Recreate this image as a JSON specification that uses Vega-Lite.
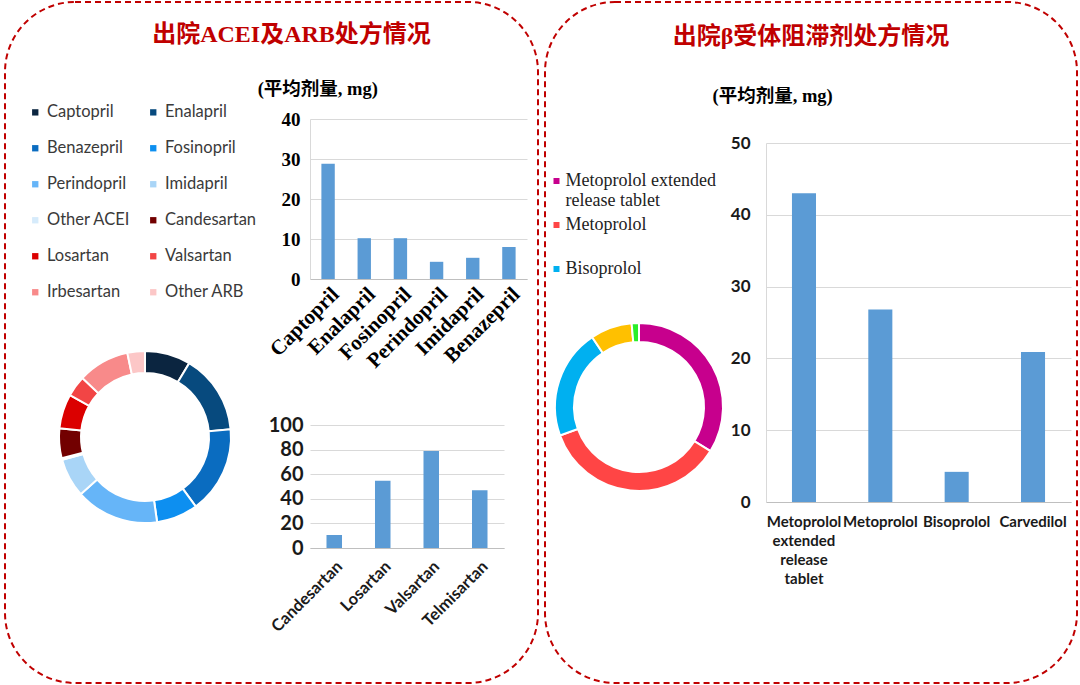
{
  "$schema": "https://vega.github.io/schema/vega-lite/v6.json",
  "background": "white",
  "padding": {"left": 4, "top": 1, "right": 0, "bottom": 0},
  "spacing": 5,
  "config": {
    "view": {"stroke": null},
    "axis": {"ticks": false, "labelFontWeight": "bold", "gridColor": "#d9d9d9", "domainColor": "#bfbfbf", "labelColor": "#1a1a1a", "labelOverlap": false},
    "legend": {"strokeDash": [6, 4], "strokeWidth": 2, "padding": 0}
  },
  "resolve": {"scale": {"color": "independent", "theta": "independent"}, "legend": {"color": "independent"}},
  "datasets": {
    "acei_arb_share": [
      {"drug": "Captopril", "rank": 1, "share": 8.6},
      {"drug": "Enalapril", "rank": 2, "share": 15.0},
      {"drug": "Benazepril", "rank": 3, "share": 16.4},
      {"drug": "Fosinopril", "rank": 4, "share": 7.8},
      {"drug": "Perindopril", "rank": 5, "share": 15.7},
      {"drug": "Imidapril", "rank": 6, "share": 7.3},
      {"drug": "Other ACEI", "rank": 7, "share": 0.3},
      {"drug": "Candesartan", "rank": 8, "share": 5.6},
      {"drug": "Losartan", "rank": 9, "share": 6.5},
      {"drug": "Valsartan", "rank": 10, "share": 3.9},
      {"drug": "Irbesartan", "rank": 11, "share": 9.7},
      {"drug": "Other ARB", "rank": 12, "share": 3.3}
    ],
    "beta_share": [
      {"drug": "Metoprolol extended release tablet", "rank": 1, "share": 33.8},
      {"drug": "Metoprolol", "rank": 2, "share": 35.7},
      {"drug": "Bisoprolol", "rank": 3, "share": 21.1},
      {"drug": "Carvedilol", "rank": 4, "share": 8.0},
      {"drug": "Other", "rank": 5, "share": 1.4}
    ],
    "acei_dose": [
      {"drug": "Captopril", "dose": 28.8},
      {"drug": "Enalapril", "dose": 10.2},
      {"drug": "Fosinopril", "dose": 10.2},
      {"drug": "Perindopril", "dose": 4.3},
      {"drug": "Imidapril", "dose": 5.3},
      {"drug": "Benazepril", "dose": 8.0}
    ],
    "arb_dose": [
      {"drug": "Candesartan", "dose": 10.5},
      {"drug": "Losartan", "dose": 54.6},
      {"drug": "Valsartan", "dose": 78.9},
      {"drug": "Telmisartan", "dose": 47.0}
    ],
    "beta_dose": [
      {"drug": "Metoprolol extended release tablet", "dose": 43.0},
      {"drug": "Metoprolol", "dose": 26.8},
      {"drug": "Bisoprolol", "dose": 4.2},
      {"drug": "Carvedilol", "dose": 20.9}
    ]
  },
  "hconcat": [
    {
      "spacing": -282,
      "resolve": {"scale": {"color": "independent", "theta": "independent"}, "legend": {"color": "independent"}},
      "hconcat": [
        {
          "spacing": -25,
          "resolve": {"scale": {"color": "independent", "theta": "independent"}, "legend": {"color": "independent"}},
          "vconcat": [
            {
              "width": 10,
              "height": 10,
              "data": {"name": "arb_dose"},
              "mark": {"type": "point", "opacity": 0},
              "encoding": {}
            },
            {
              "width": 282,
              "height": 180,
              "data": {"name": "acei_arb_share"},
              "mark": {"type": "arc", "radius": 86, "radius2": 64, "stroke": "white", "strokeWidth": 2},
              "encoding": {
                "theta": {"field": "share", "type": "quantitative"},
                "order": {"field": "rank"},
                "color": {
                  "field": "drug", "type": "nominal",
                  "scale": {
                    "domain": ["Captopril", "Benazepril", "Perindopril", "Other ACEI", "Losartan", "Irbesartan", "Enalapril", "Fosinopril", "Imidapril", "Candesartan", "Valsartan", "Other ARB"],
                    "range": ["#0b2540", "#0a6cc0", "#66b5f8", "#d6ebfb", "#db0000", "#f88a8a", "#074a7e", "#0d8ff0", "#a9d5f7", "#720000", "#f24545", "#fcc7c7"]
                  },
                  "legend": {
                    "title": null, "orient": "none", "legendX": 23, "legendY": -243,
                    "columns": 2, "columnPadding": 14, "rowPadding": 19,
                    "symbolType": "square", "symbolSize": 40, "symbolStrokeWidth": 0,
                    "labelFont": "Lato", "labelFontSize": 16.5, "labelColor": "#3a3a3a", "labelOffset": 3.5, "labelLimit": 200
                  }
                }
              }
            }
          ]
        },
        {
          "spacing": -371,
          "resolve": {"scale": {"color": "independent", "theta": "independent"}, "legend": {"color": "independent"}},
          "vconcat": [
            {
              "width": 217,
              "height": 160,
              "title": {"text": "(平均剂量, mg)", "anchor": "start", "frame": "bounds", "dx": -8, "offset": 12, "font": "'Liberation Serif', 'Noto Sans CJK SC'", "fontSize": 18.5, "fontWeight": "bold", "color": "#000000"},
              "data": {"name": "acei_dose"},
              "mark": {"type": "bar", "color": "#5b9bd5"},
              "encoding": {
                "x": {"field": "drug", "type": "nominal", "sort": null, "title": null,
                  "scale": {"paddingInner": 0.63, "paddingOuter": 0.315},
                  "axis": {"labelAngle": -45, "labelFont": "Liberation Serif", "labelFontSize": 21, "labelColor": "#000000", "labelPadding": 4, "grid": false}},
                "y": {"field": "dose", "type": "quantitative", "title": null,
                  "scale": {"domain": [0, 40]},
                  "axis": {"values": [0, 10, 20, 30, 40], "labelFont": "Liberation Serif", "labelFontSize": 19, "labelColor": "#000000", "labelPadding": 10, "domainColor": "#d9d9d9"}}
              }
            },
            {
              "width": 194,
              "height": 123,
              "title": {"text": "出院ACEI及ARB处方情况", "anchor": "middle", "frame": "bounds", "offset": -46, "dx": 20, "font": "'Liberation Serif', 'Noto Sans CJK SC'", "fontSize": 24, "fontWeight": "bold", "color": "#c00000"},
              "data": {"name": "arb_dose"},
              "mark": {"type": "bar"},
              "encoding": {
                "x": {"field": "drug", "type": "nominal", "sort": null, "title": null,
                  "scale": {"paddingInner": 0.68, "paddingOuter": 0.34},
                  "axis": {"labelAngle": -45, "labelFont": "Lato", "labelFontSize": 16.5, "labelColor": "#1a1a1a", "labelPadding": 10, "grid": false}},
                "y": {"field": "dose", "type": "quantitative", "title": null,
                  "scale": {"domain": [0, 100]},
                  "axis": {"values": [0, 20, 40, 60, 80, 100], "labelFont": "Lato", "labelFontSize": 20, "labelColor": "#1a1a1a", "labelPadding": 7, "domain": false}},
                "color": {"field": "dose", "type": "quantitative",
                  "scale": {"range": ["#5b9bd5", "#5b9bd5"]},
                  "legend": {"title": null, "orient": "none", "legendX": -305, "legendY": -423, "direction": "vertical",
                    "gradientLength": 681, "gradientThickness": 533, "gradientOpacity": 0, "gradientStrokeWidth": 0,
                    "labelExpr": "''", "labelOffset": 0, "labelFontSize": 1,
                    "strokeColor": "#c00000", "cornerRadius": 70, "padding": 0}}
              }
            }
          ]
        }
      ]
    },
    {
      "spacing": -122,
      "resolve": {"scale": {"color": "independent", "theta": "independent"}, "legend": {"color": "independent"}},
      "vconcat": [
        {
          "width": 10,
          "height": 1,
          "data": {"name": "beta_dose"},
          "mark": {"type": "point", "opacity": 0},
          "encoding": {}
        },
        {
          "spacing": -190,
          "resolve": {"scale": {"color": "independent", "theta": "independent"}, "legend": {"color": "independent"}},
          "hconcat": [
            {
              "width": 190,
              "height": 528,
              "data": {"name": "beta_share"},
              "mark": {"type": "arc", "radius": 84, "radius2": 65, "stroke": "white", "strokeWidth": 2},
              "encoding": {
                "theta": {"field": "share", "type": "quantitative"},
                "order": {"field": "rank"},
                "color": {
                  "field": "drug", "type": "nominal",
                  "scale": {
                    "domain": ["Metoprolol extended release tablet", "Metoprolol", "Bisoprolol", "Carvedilol", "Other"],
                    "range": ["#c7008d", "#ff4545", "#00b0f0", "#ffc000", "#2aee2a"]
                  },
                  "legend": {
                    "title": null, "orient": "none", "legendX": 3.5, "legendY": 29,
                    "values": ["Metoprolol extended release tablet", "Metoprolol", "Bisoprolol"],
                    "gridAlign": "all", "rowPadding": 6,
                    "symbolType": "square", "symbolSize": 36, "symbolStrokeWidth": 0,
                    "labelFont": "Liberation Serif", "labelFontSize": 18, "labelColor": "#222222", "labelOffset": 0, "labelLimit": 300,
                    "labelExpr": "datum.label == 'Metoprolol extended release tablet' ? ['Metoprolol extended', 'release tablet'] : datum.label"
                  }
                }
              }
            },
            {
              "width": 305,
              "height": 359,
              "title": {"text": "出院β受体阻滞剂处方情况", "anchor": "middle", "frame": "bounds", "offset": -48, "dx": 0, "font": "'Liberation Serif', 'Noto Sans CJK SC'", "fontSize": 24, "fontWeight": "bold", "color": "#c00000"},
              "data": {"name": "beta_dose"},
              "mark": {"type": "bar"},
              "encoding": {
                "x": {"field": "drug", "type": "nominal", "sort": null, "title": null,
                  "scale": {"paddingInner": 0.685, "paddingOuter": 0.34},
                  "axis": {"labelAngle": 0, "labelFont": "Lato", "labelFontSize": 15, "labelColor": "#1a1a1a", "labelPadding": 12, "labelLineHeight": 19, "labelLimit": 300, "labelExpr": "split(datum.label, ' ')", "grid": false}},
                "y": {"field": "dose", "type": "quantitative", "title": "(平均剂量, mg)",
                  "scale": {"domain": [0, 50]},
                  "axis": {"values": [0, 10, 20, 30, 40, 50], "labelFont": "Lato", "labelFontSize": 17, "labelColor": "#1a1a1a", "labelPadding": 16, "domainColor": "#d9d9d9",
                    "titleAngle": 0, "titleAlign": "left", "titleBaseline": "middle", "titleX": -54, "titleY": -48,
                    "titleFont": "'Liberation Serif', 'Noto Sans CJK SC'", "titleFontSize": 18.5, "titleFontWeight": "bold", "titleColor": "#000000"}},
                "color": {"field": "dose", "type": "quantitative",
                  "scale": {"range": ["#5b9bd5", "#5b9bd5"]},
                  "legend": {"title": null, "orient": "none", "legendX": -221, "legendY": -141, "direction": "vertical",
                    "gradientLength": 681, "gradientThickness": 532, "gradientOpacity": 0, "gradientStrokeWidth": 0,
                    "labelExpr": "''", "labelOffset": 0, "labelFontSize": 1,
                    "strokeColor": "#c00000", "cornerRadius": 70, "padding": 0}}
              }
            }
          ]
        }
      ]
    }
  ]
}
